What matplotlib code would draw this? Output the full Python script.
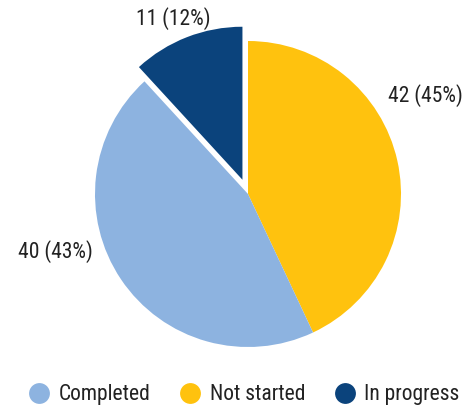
import numpy as np
import matplotlib
matplotlib.use('Agg')
from matplotlib import pyplot as plt
from matplotlib.lines import Line2D

plt.rcParams['font.family'] = ['Roboto Condensed', 'DejaVu Sans']

labels = ['Not started', 'Completed', 'In progress']
counts = [40, 42, 11]
colors = ['#FFC20E', '#8DB3E0', '#0B437C']
explode = [0, 0, 0.1]
legend_order = ['Completed', 'Not started', 'In progress']
# label texts as printed on the chart, with their spots
label_text = ['42 (45%)', '40 (43%)', '11 (12%)']
label_xy = [(1.157, 0.647), (-1.261, -0.379), (-0.49, 1.15)]

fig = plt.figure(figsize=(4.7, 4.05), dpi=100)
ax = fig.add_axes([0, 0, 1, 1])
R = 153.0
ax.pie(counts, colors=colors, explode=explode, startangle=90, counterclock=False,
       radius=1, wedgeprops=dict(linewidth=0))
ax.set_aspect('auto')
ax.set_xlim(-248 / R, 222 / R)
ax.set_ylim(-211 / R, 194 / R)
ax.axis('off')

for t, (x, y) in zip(label_text, label_xy):
    ax.text(x, y, t, ha='center', va='center', fontsize=15.5, color='#222222')

handles = [Line2D([], [], marker='o', linestyle='none', markersize=15,
                  markerfacecolor=colors[labels.index(n)], markeredgewidth=0)
           for n in legend_order]
fig.legend(handles, legend_order, loc='lower center', ncol=3, frameon=False,
           bbox_to_anchor=(0.518, -0.048), fontsize=15.5, handlelength=1.1,
           handletextpad=0.35, columnspacing=1.3, labelcolor='#222222')

plt.savefig('out.png', dpi=100)
plt.close()
